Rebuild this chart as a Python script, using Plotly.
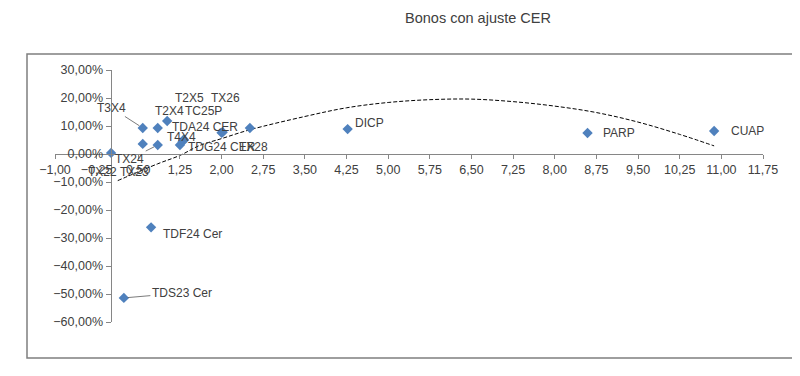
import plotly.graph_objects as go

# ---- data ----
bond_names = ["CUAP", "PARP", "DICP", "TDF24 Cer", "TDS23 Cer", "T3X4", "TX23", "T2X4",
              "TX24", "T2X5", "TC25P", "T4X4", "TDG24 CER", "TDA24 CER", "TX26", "TX28", "TX22"]
duration = [10.87, 8.59, 4.27, 0.73, 0.24, 0.58, 0.58, 0.85,
            0.85, 1.02, 1.32, 1.25, 1.30, 2.00, 2.02, 2.51, 0.01]
yield_cer = [0.082, 0.075, 0.089, -0.262, -0.514, 0.093, 0.036, 0.093,
             0.032, 0.118, 0.052, 0.032, 0.045, 0.076, 0.078, 0.093, 0.004]

# polynomial trend line
trend_x = [0.13, 0.85, 1.25, 1.6, 2.0, 2.5, 3.5, 4.25, 5.0, 5.75, 6.5, 7.25, 8.0, 8.75, 9.5, 10.25, 10.87]
trend_y = [-0.095, -0.035, -0.005, 0.03, 0.055, 0.086, 0.134, 0.165, 0.184, 0.194, 0.196,
           0.187, 0.171, 0.148, 0.114, 0.070, 0.029]

x_range = [-1.0, 11.75]
y_range = [-0.6, 0.3]

# label placement (pixel offsets: right, down) and whether a leader line is drawn
label_layout = {
    "CUAP": (33, 0, False), "PARP": (31, 0, False), "DICP": (22, -6, False),
    "TDF24 Cer": (41, 7, False), "TDS23 Cer": (58, -5, True), "T3X4": (-31, -20, True),
    "TX23": (-8, 28, False), "T2X4": (12, -17, False), "TX24": (-28, 14, True),
    "T2X5": (22, -23, False), "TC25P": (20, -28, False), "T4X4": (2, -8, False),
    "TDG24 CER": (39, 6, True), "TDA24 CER": (-17, -6, False), "TX26": (3, -34, False),
    "TX28": (4, 19, False), "TX22": (-9, 19, False),
}

TXT = "#404040"
AX = "#868686"
FONT = "Liberation Sans"

fig = go.Figure()
fig.add_trace(go.Scatter(x=trend_x, y=trend_y, mode="lines",
                         line=dict(color="black", width=1, dash="4px,2px", shape="spline"),
                         hoverinfo="skip", showlegend=False))
fig.add_trace(go.Scatter(x=duration, y=yield_cer, mode="markers",
                         marker=dict(symbol="diamond", size=8, color="#4F81BD"),
                         text=bond_names, showlegend=False))

annotations = []
for name, xv, yv in zip(bond_names, duration, yield_cer):
    dx, dy, leader = label_layout[name]
    if leader:
        annotations.append(dict(x=xv, y=yv, text=name, showarrow=True, ax=dx, ay=dy,
                                arrowhead=0, arrowwidth=0.8, arrowcolor="#595959", standoff=4,
                                font=dict(family=FONT, size=12, color=TXT)))
    else:
        annotations.append(dict(x=xv, y=yv, text=name, showarrow=False, xshift=dx, yshift=-dy,
                                font=dict(family=FONT, size=12, color=TXT)))

# page body adds an 8px offset, so positions below are shifted by -8
OFF = 8
W, H = 800, 376
L, T = 55 - OFF, 70 - OFF
R, B = W - (763 - OFF), H - (322 - OFF)
pw, ph = W - L - R, H - T - B
x_zero_pos = (0 - y_range[0]) / (y_range[1] - y_range[0])
y_zero_pos = (0 - x_range[0]) / (x_range[1] - x_range[0])

fig.update_layout(
    width=W, height=H, margin=dict(l=L, r=R, t=T, b=B),
    paper_bgcolor="white", plot_bgcolor="white",
    separators=",.",
    font=dict(family=FONT, size=12, color=TXT),
    title=dict(text="Bonos con ajuste CER", x=(478 - OFF) / W, xanchor="center",
               y=1 - (18 - OFF) / H, yanchor="middle",
               font=dict(family=FONT, size=14.5, color="#404040")),
    xaxis=dict(range=x_range, tick0=-1, dtick=0.75, tickformat=".2f", showgrid=False, zeroline=False,
               showline=True, linecolor=AX, linewidth=1, ticks="outside", ticklen=4, tickcolor=AX,
               anchor="free", position=x_zero_pos, tickfont=dict(family=FONT, size=12.5, color=TXT)),
    yaxis=dict(range=y_range, dtick=0.1, tickformat=".2%", showgrid=False, zeroline=False,
               showline=True, linecolor=AX, linewidth=1, ticks="outside", ticklen=5, tickcolor=AX,
               anchor="free", position=y_zero_pos, tickfont=dict(family=FONT, size=12.5, color=TXT)),
    annotations=annotations,
    shapes=[dict(type="rect", xref="paper", yref="paper",
                 x0=(27 - OFF - L) / pw, x1=(793 - OFF - L) / pw,
                 y0=(H - B - (358 - OFF)) / ph, y1=(H - B - (54 - OFF)) / ph,
                 line=dict(color="#7f7f7f", width=1.5), layer="below")],
)

fig.write_html("out.html")
